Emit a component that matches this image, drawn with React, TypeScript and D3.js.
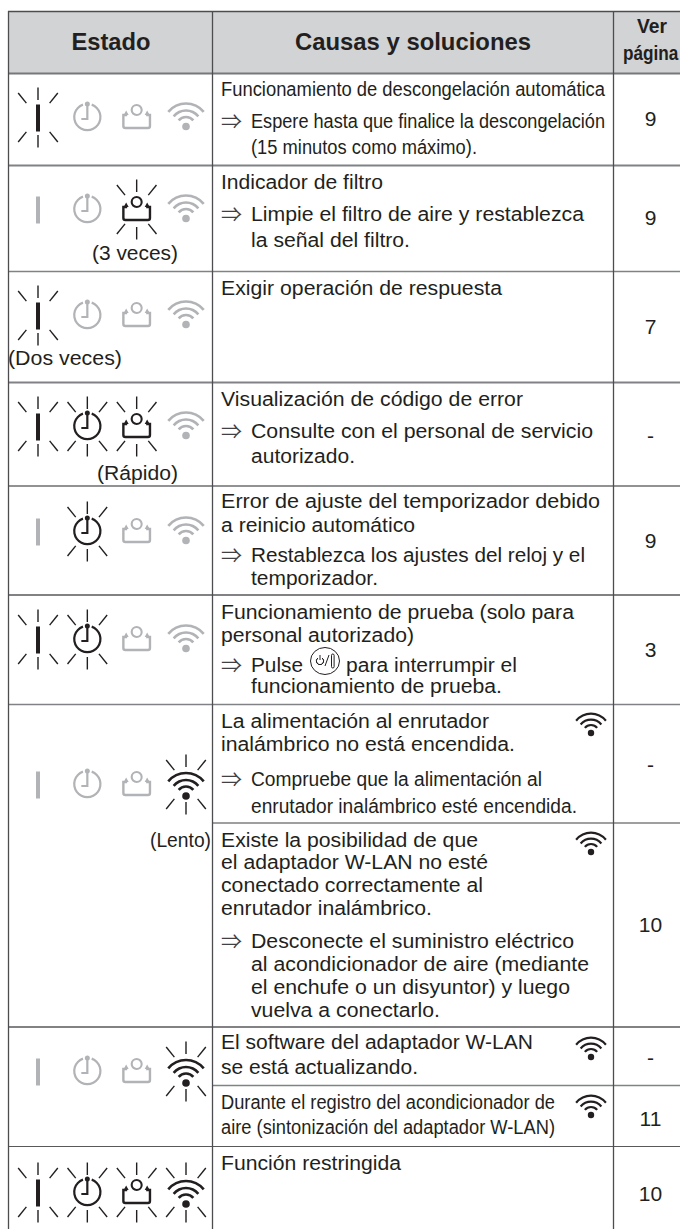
import React from "react";
import * as d3 from "d3";

// table content
const headers = ["Estado", "Causas y soluciones"];
const pageHeader = ["Ver", "página"];
const iconNames = ["lamp", "timer", "filter", "wifi"];
const blinkingByRow = [
  ["lamp"],
  ["filter"],
  ["lamp"],
  ["lamp", "timer", "filter"],
  ["timer"],
  ["lamp", "timer"],
  ["wifi"],
  ["wifi"],
  ["lamp", "timer", "filter", "wifi"],
];
const stateCaptions = ["(3 veces)", "(Dos veces)", "(Rápido)", "(Lento)"];
const pageRefs = ["9", "9", "7", "-", "9", "3", "-", "10", "-", "11", "10"];
const causeLines = [
  "Funcionamiento de descongelación automática",
  "Espere hasta que finalice la descongelación",
  "(15 minutos como máximo).",
  "Indicador de filtro",
  "Limpie el filtro de aire y restablezca",
  "la señal del filtro.",
  "Exigir operación de respuesta",
  "Visualización de código de error",
  "Consulte con el personal de servicio",
  "autorizado.",
  "Error de ajuste del temporizador debido",
  "a reinicio automático",
  "Restablezca los ajustes del reloj y el",
  "temporizador.",
  "Funcionamiento de prueba (solo para",
  "personal autorizado)",
  "Pulse",
  "para interrumpir el",
  "funcionamiento de prueba.",
  "La alimentación al enrutador",
  "inalámbrico no está encendida.",
  "Compruebe que la alimentación al",
  "enrutador inalámbrico esté encendida.",
  "Existe la posibilidad de que",
  "el adaptador W-LAN no esté",
  "conectado correctamente al",
  "enrutador inalámbrico.",
  "Desconecte el suministro eléctrico",
  "al acondicionador de aire (mediante",
  "el enchufe o un disyuntor) y luego",
  "vuelva a conectarlo.",
  "El software del adaptador W-LAN",
  "se está actualizando.",
  "Durante el registro del acondicionador de",
  "aire (sintonización del adaptador W-LAN)",
  "Función restringida",
];

// layout, same order as the lists above
const lineBaselines = [96, 128, 154, 189, 221, 247, 295, 406, 438, 463, 508, 532, 562, 585, 619, 642, 672, 672, 693, 728, 751, 786, 813, 847, 869, 892, 915, 948, 971, 994, 1017, 1049, 1074, 1109, 1134, 1170];
const lineStarts = [221, 251, 251, 221, 251, 251, 221, 221, 251, 251, 221, 221, 251, 251, 221, 221, 251, 346, 251, 221, 221, 251, 251, 221, 221, 221, 221, 251, 251, 251, 251, 221, 221, 221, 221, 221];
const lineEnds = [605, 605, 477, 383, 584, 410, 502, 523, 593, 355, 600, 415, 585, 378, 574, 414, 303, 517, 502, 489, 515, 542, 577, 478, 488, 483, 432, 574, 589, 570, 440, 533, 418, 555, 555, 401];
const arrowBaselines = [128, 221, 438, 562, 672, 786, 948];
const pageCenters = [118, 217, 326, 435, 540, 649, 764, 924, 1057, 1118, 1193];
const stateCenters = [118, 210, 316, 427, 532, 640, 785, 1072, 1193];
const captionBoxes = [[92, 178, 260], [8, 122, 365], [97, 178, 480], [150, 211, 847]];
const smallWifiDots = [733, 852, 1057, 1115];
// [y, x start, colour, width]
const ruleLines: [number, number, string, number][] = [
  [11.5, 8, "#4d4d4f", 1.4],
  [73.5, 8, "#77787b", 1.8],
  [165.5, 8, "#808285", 1.8],
  [271.5, 8, "#808285", 1.6],
  [382.5, 8, "#808285", 1.8],
  [486, 8, "#6d6e71", 1.5],
  [595, 8, "#58595b", 1.3],
  [704.5, 8, "#808285", 1.6],
  [823, 212, "#414042", 1.1],
  [1027, 8, "#58595b", 1.4],
  [1085.5, 212, "#808285", 1.6],
  [1146.5, 8, "#58595b", 1.2],
];

const W = 680;
const H = 1229;
const ink = "#231f20";
const gray = "#b1b3b6";
const font = "'Liberation Sans', Arial, sans-serif";

const iconX = d3.scalePoint<string>().domain(iconNames).range([38, 186]);

// sparkle rays round a lit indicator: up, down and four diagonals, none sideways
const diag = 0.68;
const rayAngles = [0, Math.PI, diag, -diag, Math.PI - diag, diag - Math.PI];
const rays = rayAngles.map((a, i) => {
  const near = i < 2 ? 17.5 : 18.5;
  const far = i < 2 ? 30 : 31.5;
  return d3.line()([d3.pointRadial(a, near) as [number, number], d3.pointRadial(a, far) as [number, number]]) as string;
});

const Rays = () => (
  <g stroke={ink} strokeWidth={1.4} fill="none" transform="translate(0,-0.5)">
    {rays.map((d, i) => (
      <path key={i} d={d} />
    ))}
  </g>
);

const timerRing = d3.arc()({ innerRadius: 12, outerRadius: 14.2, startAngle: 0.34, endAngle: Math.PI * 2 - 0.34 }) as string;

const Timer = ({ color }: { color: string }) => (
  <g transform="translate(0,-1)" fill={color}>
    <path d={timerRing} />
    <circle cy={-13} r={2.5} />
    <path d="M0,-12V2H-6" fill="none" stroke={color} strokeWidth={2.2} />
  </g>
);

const Filter = ({ color }: { color: string }) => (
  <g>
    <circle cy={-8} r={5} fill="none" stroke={color} strokeWidth={2.1} />
    <path
      d="M-9.5,-3H-13.3V8a2,2 0 0 0 2,2H11.3a2,2 0 0 0 2,-2V-3H9.5"
      fill="none"
      stroke={color}
      strokeWidth={2.4}
    />
    <path d="M-13,-3L-10.5,-7.5L-8,-3ZM8,-3L10.5,-7.5L13,-3Z" fill={color} />
  </g>
);

const wifiRadii = [23, 16, 9.5];
const wifiArcs = wifiRadii.map(
  (r) => d3.arc()({ innerRadius: r - 1.3, outerRadius: r + 1.3, startAngle: -0.88, endAngle: 0.88 }) as string
);

const Wifi = ({ color }: { color: string }) => (
  <g fill={color}>
    {wifiArcs.map((d, i) => (
      <path key={i} d={d} />
    ))}
    <circle r={3.8} />
  </g>
);

const Lamp = ({ color }: { color: string }) => <rect x={-2} y={-13.5} width={4} height={27} fill={color} />;

const StateIcon = ({ name, lit }: { name: string; lit: boolean }) => {
  const color = lit ? ink : gray;
  return (
    <g>
      {lit && <Rays />}
      {name === "lamp" && <Lamp color={color} />}
      {name === "timer" && <Timer color={color} />}
      {name === "filter" && <Filter color={color} />}
      {name === "wifi" && (
        <g transform={`translate(0,${lit ? 11 : 8.5})`}>
          <Wifi color={color} />
        </g>
      )}
    </g>
  );
};

const PowerButton = () => (
  <g transform="translate(325,661)" fill="none" stroke={ink}>
    <ellipse rx={14.5} ry={13.5} strokeWidth={1} />
    <path d={d3.arc()({ innerRadius: 3.6, outerRadius: 3.6, startAngle: 0.6, endAngle: Math.PI * 2 - 0.6 }) as string} transform="translate(-5,0)" strokeWidth={1} />
    <path d="M-5,-6V-1M0,5L4,-6" strokeWidth={1} />
    <rect x={6.5} y={-7} width={2.6} height={14} rx={1.3} strokeWidth={1} />
  </g>
);

const App = () => (
  <svg
    width={W}
    height={H}
    viewBox={`0 0 ${W} ${H}`}
    style={{ position: "absolute", left: 0, top: 0, background: "#fff" }}
    fontFamily={font}
  >
    <rect x={8.5} y={11.5} width={W - 8.5} height={62} fill="#d1d3d4" />

    {ruleLines.map(([y, x0, color, w], i) => (
      <line key={i} x1={x0} x2={W} y1={y} y2={y} stroke={color} strokeWidth={w} />
    ))}
    {[8.5, 212.5, 613.5].map((x) => (
      <line key={x} x1={x} x2={x} y1={11} y2={H} stroke="#4d4d4f" strokeWidth={1.3} />
    ))}

    <g fontWeight={700} fill={ink} fontSize={24}>
      <text x={71.5} y={50} textLength={79} lengthAdjust="spacingAndGlyphs">
        {headers[0]}
      </text>
      <text x={295} y={50} textLength={236} lengthAdjust="spacingAndGlyphs">
        {headers[1]}
      </text>
      <text x={637} y={33} fontSize={20} textLength={30} lengthAdjust="spacingAndGlyphs">
        {pageHeader[0]}
      </text>
      {/* squeezed with a transform so its box stays inside the page */}
      <text transform="translate(623,60) scale(0.86,1)" fontSize={20}>
        {pageHeader[1]}
      </text>
    </g>

    {blinkingByRow.map((lit, r) =>
      iconNames.map((name) => (
        <g key={`${r}-${name}`} transform={`translate(${iconX(name)},${stateCenters[r]})`}>
          <StateIcon name={name} lit={lit.includes(name)} />
        </g>
      ))
    )}

    <g fill={ink} fontSize={20}>
      {stateCaptions.map((t, i) => (
        <text
          key={t}
          x={captionBoxes[i][0]}
          y={captionBoxes[i][2]}
          textLength={captionBoxes[i][1] - captionBoxes[i][0]}
          lengthAdjust="spacingAndGlyphs"
        >
          {t}
        </text>
      ))}
      {causeLines.map((t, i) => (
        <text
          key={t}
          x={lineStarts[i]}
          y={lineBaselines[i]}
          textLength={lineEnds[i] - lineStarts[i]}
          lengthAdjust="spacingAndGlyphs"
        >
          {t}
        </text>
      ))}
    </g>

    <g fill="#414042" fontSize={20} fontFamily="'Noto Sans CJK JP', 'DejaVu Sans', sans-serif">
      {arrowBaselines.map((y) => (
        <text key={y} x={221} y={y + 1} textLength={21} lengthAdjust="spacingAndGlyphs">
          ⇒
        </text>
      ))}
    </g>

    <PowerButton />

    {smallWifiDots.map((y) => (
      <g key={y} transform={`translate(591,${y}) scale(0.84)`}>
        <Wifi color={ink} />
      </g>
    ))}

    <g fill={ink} fontSize={21} textAnchor="middle">
      {pageRefs.map((t, i) => (
        <text key={i} x={650.5} y={pageCenters[i] + 7.5}>
          {t}
        </text>
      ))}
    </g>
  </svg>
);

export default App;
